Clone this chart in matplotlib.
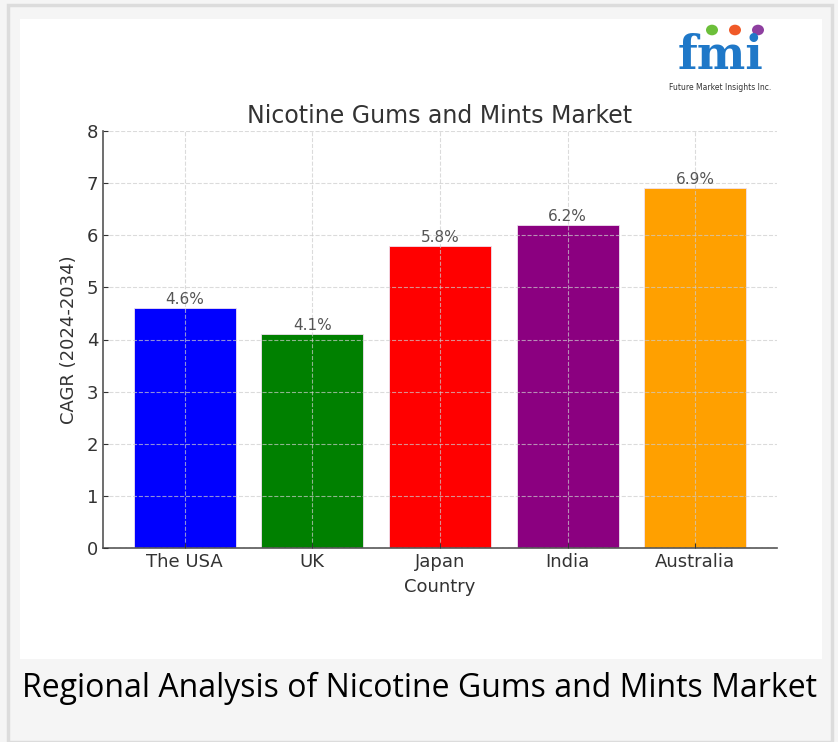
import matplotlib.pyplot as plt
from matplotlib.patches import Rectangle, Circle

# Chart data
countries = ['The USA', 'UK', 'Japan', 'India', 'Australia']
cagr = [4.6, 4.1, 5.8, 6.2, 6.9]
bar_colors = ['#0000ff', '#008000', '#ff0000', '#8b0080', '#ffa000']
y_ticks = [0, 1, 2, 3, 4, 5, 6, 7, 8]

fig = plt.figure(figsize=(8.38, 7.42), dpi=100, facecolor='#f5f5f5')

# Frame: thin grey border, white panel
fig.patches.append(Rectangle((8 / 838, 0), 824 / 838, 737 / 742, transform=fig.transFigure,
                             facecolor='none', edgecolor='#dcdcdc', linewidth=2.5, zorder=-2))
fig.patches.append(Rectangle((20 / 838, 1 - 659 / 742), 802 / 838, 640 / 742,
                             transform=fig.transFigure, facecolor='white', edgecolor='none', zorder=-1))

ax = fig.add_axes([103 / 838, 1 - 548 / 742, 674 / 838, 417 / 742])
ax.set_zorder(2)
ax.set_facecolor('white')
bars = ax.bar(countries, cagr, color=bar_colors, width=0.8, edgecolor='#f0e0f0', linewidth=0.6)

for b, v in zip(bars, cagr):
    ax.text(b.get_x() + b.get_width() / 2, v + 0.02, f'{v}%', ha='center', va='bottom',
            fontsize=11, color='#555555')

ax.set_ylim(0, 8)
ax.set_yticks(y_ticks)
ax.grid(True, linestyle='--', color='#cccccc', alpha=0.7, linewidth=0.8)
ax.set_axisbelow(False)
for s in ['top', 'right']:
    ax.spines[s].set_visible(False)
for s in ['left', 'bottom']:
    ax.spines[s].set_color('#555555')
    ax.spines[s].set_linewidth(1.2)
ax.tick_params(colors='#333333', labelsize=13, direction='in')
ax.set_title('Nicotine Gums and Mints Market', fontsize=17, color='#333333', pad=6)
ax.set_xlabel('Country', fontsize=13, color='#333333', labelpad=5)
ax.set_ylabel('CAGR (2024-2034)', fontsize=13, color='#333333', labelpad=6)

# Logo
fig.text(720 / 838, 1 - 56 / 742, 'fmi', fontsize=33, fontweight='bold', color='#1f78c8',
         ha='center', va='center', family='DejaVu Serif', zorder=3)
for cx, c in [(712, '#6cbf3a'), (735, '#f05a28'), (758, '#8e3fa0')]:
    fig.patches.append(Circle((cx / 838, 1 - 30 / 742), 6 / 838, transform=fig.transFigure,
                              facecolor=c, edgecolor='none', zorder=3))
fig.text(720 / 838, 1 - 87 / 742, 'Future Market Insights Inc.', fontsize=5.5, color='#333333',
         ha='center', va='center', zorder=3)

# Caption
fig.text(22 / 838, 1 - 688 / 742, 'Regional Analysis of Nicotine Gums and Mints Market',
         fontsize=23, family='Open Sans', color='black', ha='left', va='center')

fig.savefig('out.png', dpi=100, facecolor=fig.get_facecolor())
